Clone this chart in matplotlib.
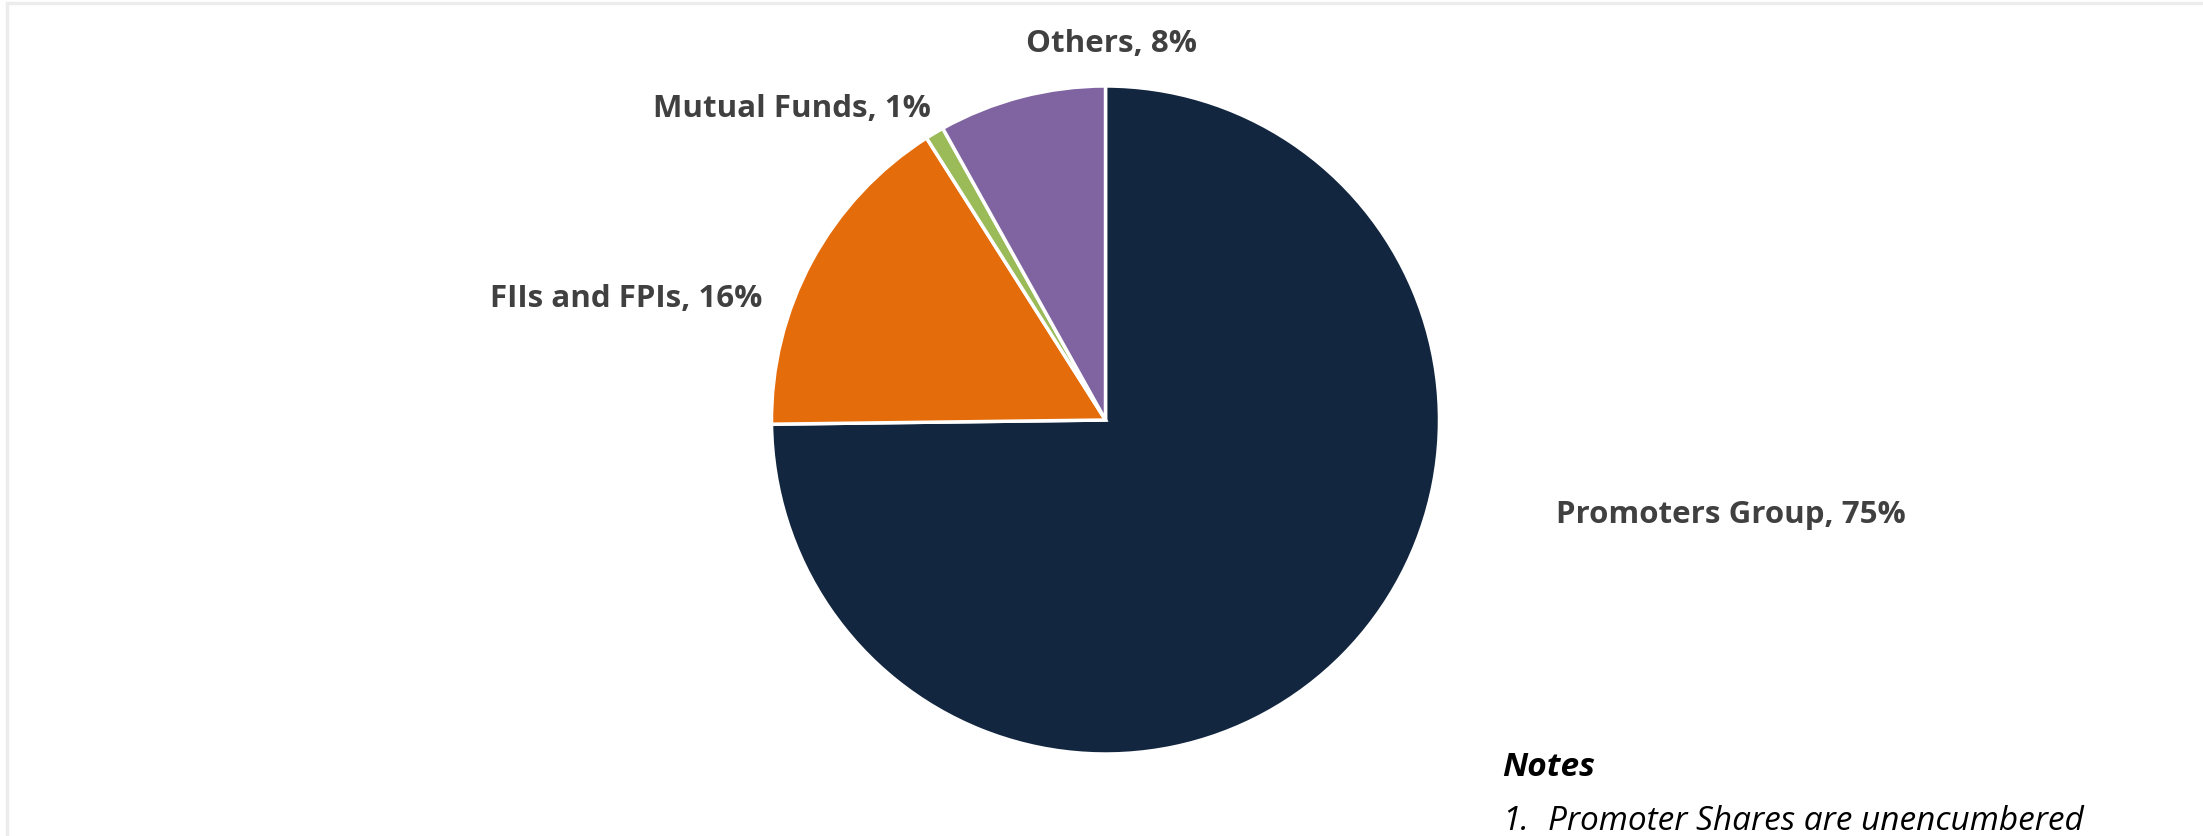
import matplotlib.pyplot as plt
from matplotlib.patches import Rectangle

# shareholding pattern
labels = ["Promoters Group", "FIIs and FPIs", "Mutual Funds", "Others"]
shares = [74.8, 16.2, 0.9, 8.1]
label_pct = ["75%", "16%", "1%", "8%"]
colors = ["#132640", "#e46c0a", "#9bbb59", "#8064a2"]

W, H = 2203, 836
cx, cy, r = 1105.5, 420, 334

plt.rcParams['font.family'] = ['Open Sans', 'DejaVu Sans']

fig = plt.figure(figsize=(W / 100, H / 100), dpi=100)
fig.patches.append(Rectangle((7 / W, -0.1), 1.2, (H - 3) / H + 0.1, transform=fig.transFigure,
                             facecolor="none", edgecolor="#ececec", linewidth=2.5))

ax = fig.add_axes([(cx - r) / W, (H - cy - r) / H, 2 * r / W, 2 * r / H])
ax.pie(shares, colors=colors, startangle=90, counterclock=False, radius=1,
       wedgeprops=dict(edgecolor="white", linewidth=2.5))
ax.set_xlim(-1, 1)
ax.set_ylim(-1, 1)
ax.set_aspect("equal")
ax.axis("off")

# label positions in pixels (centre x, baseline y)
label_px = [(1731, 523), (626, 307), (792, 117), (1112, 52)]
for name, pct, (px, py) in zip(labels, label_pct, label_px):
    ax.text((px - cx) / r, (cy - py) / r, f"{name}, {pct}", ha="center", va="baseline",
            fontsize=22.5, fontweight="bold", color="#404040", clip_on=False)

fig.text(1502 / W, 1 - 776 / H, "Notes", fontsize=24, fontweight="bold", style="italic",
         color="black", va="baseline", ha="left")
fig.text(1502 / W, 1 - 830 / H, "1.", fontsize=24, style="italic", color="black",
         va="baseline", ha="left")
fig.text(1548 / W, 1 - 830 / H, "Promoter Shares are unencumbered", fontsize=24, style="italic",
         color="black", va="baseline", ha="left")

fig.savefig("out.png", dpi=100, facecolor="white")
